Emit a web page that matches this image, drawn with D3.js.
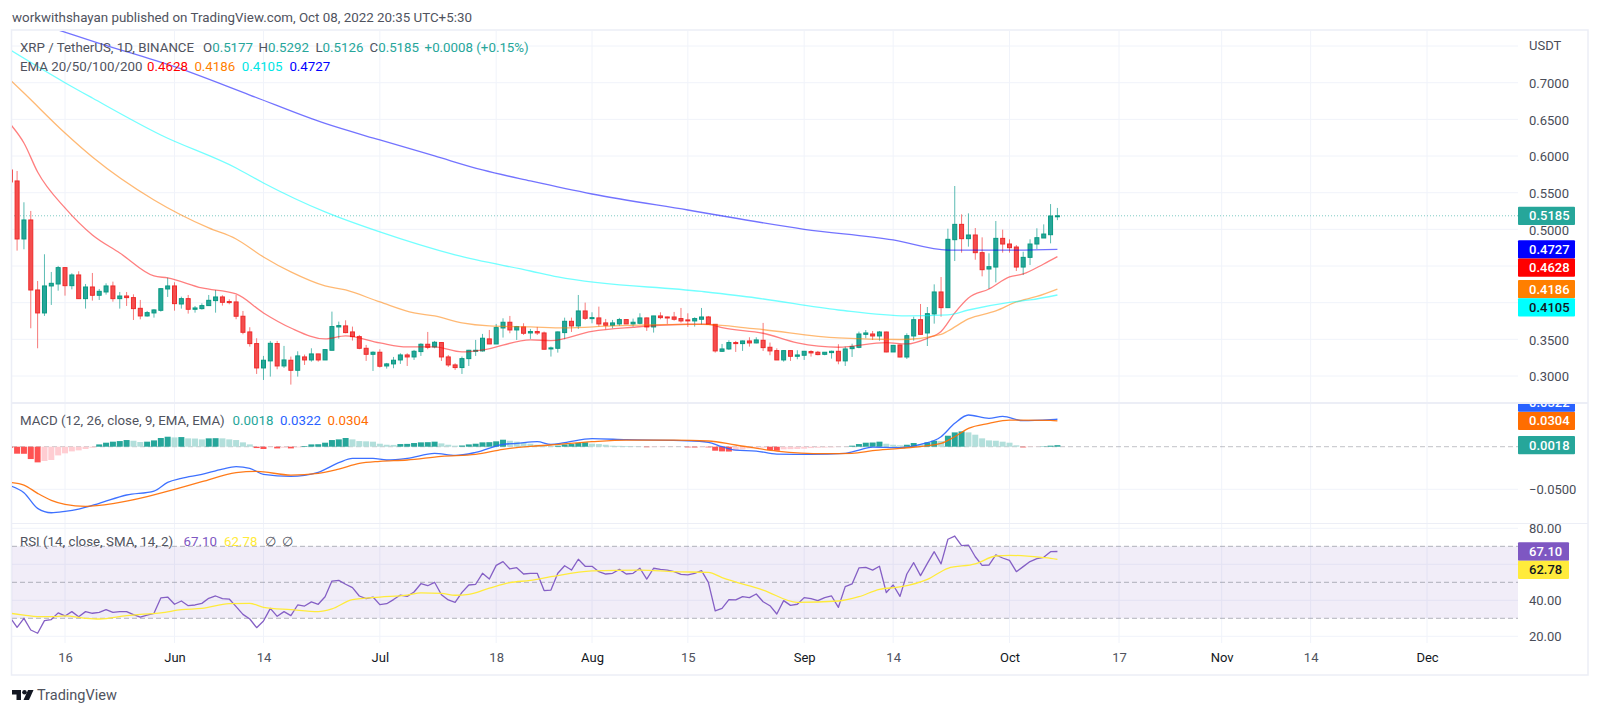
<!DOCTYPE html>
<html>
<head>
<meta charset="utf-8">
<title>XRP / TetherUS</title>
<script src="https://cdn.jsdelivr.net/npm/d3@7"></script>
<style>
  html, body { margin: 0; padding: 0; background: #fff; }
  svg { display: block; font-family: Roboto, sans-serif; }
</style>
</head>
<body>
<svg id="chart" width="1600" height="714"></svg>
<script>
// daily candles, first one is 8 May 2022 (cut off by the left edge)
const opens = [.5810,.5660,.4869,.5128,.4173,.3860,.4228,.4255,.4478,.4232,.4378,.4055,.4214,.4101,.4146,.4228,.4055,.4091,.4069,.3923,.3819,.3860,.3896,.4187,.4228,.3982,.4055,.3910,.3919,.3960,.4028,.4078,
  .4015,.4010,.3815,.3601,.3442,.3110,.3206,.3442,.3137,.3215,.3078,.3260,.3219,.3301,.3219,.3351,.3669,.3683,.3601,.3537,.3378,.3296,.3324,.3137,.3165,.3219,.3287,.3260,.3333,.3433,.3396,
  .3456,.3260,.3151,.3115,.3237,.3337,.3342,.3506,.3437,.3655,.3733,.3628,.3669,.3587,.3606,.3587,.3369,.3378,.3592,.3746,.3683,.3887,.3783,.3792,.3724,.3692,.3710,.3769,.3710,.3719,.3792,
  .3669,.3819,.3805,.3805,.3783,.3765,.3751,.3774,.3805,.3705,.3337,.3369,.3456,.3442,.3478,.3451,.3487,.3392,.3346,.3219,.3346,.3269,.3283,.3333,.3324,.3296,.3319,.3337,.3206,
  .3373,.3391,.3568,.3573,.3546,.3600,.3328,.3423,.3259,.3546,.3768,.3587,.3846,.4146,.3932,.4859,.5068,.4873,.4923,.4682,.4459,.4486,.4877,.4800,.4759,.4486,.4618,.4800,.4882,.4927,.5177];
const highs = [.5850,.5796,.5369,.5251,.4296,.4660,.4419,.4501,.4482,.4401,.4428,.4255,.4405,.4187,.4264,.4287,.4146,.4146,.4114,.4037,.3887,.3910,.4196,.4341,.4278,.4082,.4105,.3955,.3991,.4105,.4173,.4101,
  .4046,.4105,.3887,.3665,.3515,.3274,.3478,.3478,.3410,.3265,.3337,.3292,.3378,.3301,.3365,.3878,.3742,.3760,.3674,.3560,.3424,.3337,.3365,.3178,.3260,.3310,.3310,.3356,.3446,.3601,.3478,
  .3460,.3287,.3174,.3265,.3356,.3492,.3574,.3628,.3710,.3787,.3819,.3683,.3719,.3642,.3669,.3606,.3401,.3606,.3796,.3796,.4105,.4001,.3869,.3946,.3778,.3765,.3792,.3774,.3783,.3855,.3796,
  .3819,.3869,.3810,.3874,.3928,.3855,.3801,.3928,.3819,.3705,.3437,.3487,.3478,.3483,.3528,.3528,.3724,.3456,.3378,.3351,.3351,.3351,.3342,.3351,.3342,.3324,.3346,.3433,.3401,
  .3440,.3605,.3627,.3614,.3614,.3605,.3423,.3428,.3582,.3809,.3982,.3941,.4250,.4350,.5009,.5591,.5205,.5218,.5018,.4891,.4673,.5114,.4996,.4864,.4786,.4695,.4864,.5014,.5068,.5345,.5292];
const lows = [.5620,.4710,.4728,.3651,.3378,.3819,.3969,.4164,.4096,.4182,.4050,.3919,.4028,.4037,.4110,.4014,.3919,.3955,.3764,.3773,.3810,.3796,.3878,.4078,.3891,.3919,.3851,.3864,.3905,.3955,.3864,.3960,
  .3978,.3774,.3569,.3401,.3028,.2946,.2992,.3092,.3110,.2883,.2992,.3151,.3196,.3196,.3219,.3351,.3510,.3583,.3483,.3365,.3206,.3069,.3115,.3101,.3106,.3165,.3137,.3219,.3274,.3365,.3378,
  .3206,.3124,.3083,.3028,.3137,.3274,.3333,.3437,.3437,.3524,.3583,.3492,.3560,.3506,.3560,.3365,.3265,.3319,.3501,.3601,.3642,.3765,.3719,.3674,.3637,.3651,.3683,.3710,.3674,.3705,.3615,
  .3592,.3774,.3710,.3755,.3728,.3669,.3674,.3701,.3701,.3319,.3328,.3356,.3328,.3342,.3401,.3446,.3342,.3283,.3219,.3196,.3206,.3228,.3219,.3265,.3283,.3283,.3237,.3160,.3137,
  .3260,.3378,.3514,.3491,.3482,.3323,.3328,.3255,.3232,.3482,.3568,.3409,.3714,.3809,.3932,.4568,.4682,.4764,.4586,.4359,.4187,.4277,.4682,.4682,.4432,.4377,.4514,.4732,.4882,.4809,.5126];
const closes = [.5646,.4869,.5128,.4173,.3860,.4228,.4264,.4478,.4232,.4378,.4055,.4214,.4101,.4155,.4228,.4055,.4091,.4069,.3919,.3819,.3864,.3901,.4191,.4228,.3987,.4055,.3910,.3928,.3960,.4032,.4078,.4005,
  .4001,.3815,.3596,.3442,.3110,.3215,.3446,.3137,.3219,.3078,.3274,.3219,.3301,.3219,.3360,.3674,.3687,.3592,.3537,.3378,.3296,.3324,.3133,.3165,.3215,.3287,.3260,.3337,.3433,.3392,.3460,
  .3260,.3151,.3115,.3237,.3351,.3351,.3515,.3437,.3660,.3733,.3628,.3674,.3583,.3606,.3587,.3365,.3383,.3601,.3746,.3683,.3887,.3787,.3796,.3710,.3692,.3724,.3769,.3710,.3733,.3792,.3669,
  .3819,.3796,.3796,.3774,.3751,.3755,.3783,.3805,.3705,.3342,.3369,.3456,.3442,.3478,.3451,.3492,.3387,.3342,.3219,.3346,.3269,.3287,.3337,.3315,.3292,.3324,.3337,.3206,.3369,
  .3400,.3573,.3587,.3546,.3600,.3328,.3418,.3259,.3550,.3768,.3568,.3850,.4146,.3932,.4864,.5068,.4873,.4923,.4682,.4450,.4491,.4877,.4800,.4750,.4486,.4618,.4800,.4886,.4936,.5182,.5185];

// EMA lines, read at these candle numbers (0 = 9 May)
const ema20Days = [-1,1,3,7,11,15,20,22,27,32,36,40,45,48,53,57,61,65,68,75,78,84,90,98,101,103,109,114,120,127,130,133,135,137,139,142,145,147,150,152];
const ema20 = [.6437,.6178,.5782,.5292,.4923,.4678,.4364,.4337,.4201,.4119,.3860,.3655,.3505,.3546,.3451,.3396,.3396,.3328,.3355,.3492,.3483,.3610,.3665,.3706,.3706,.3659,.3583,.3451,.3392,.3455,.3437,.3515,.3608,.3861,.4064,.4187,.4351,.4392,.4528,.4628];
const ema50Days = [-1,1,7,11,20,28,32,36,40,45,48,53,58,61,65,69,75,80,87,100,108,120,129,135,136,139,143,146,149,152];
const ema50 = [.7037,.6859,.6314,.5987,.5401,.5019,.4869,.4623,.4419,.4228,.4173,.4010,.3860,.3819,.3724,.3683,.3669,.3655,.3683,.3703,.3642,.3519,.3498,.3569,.3614,.3778,.3887,.4010,.4085,.4186];
const ema100Days = [-1,7,11,21,32,36,45,53,64,75,79,100,108,120,130,136,139,145,148,152];
const ema100 = [.7446,.7000,.6791,.6287,.5837,.5632,.5237,.4964,.4651,.4432,.4351,.4153,.4064,.3900,.3819,.3833,.3900,.4003,.4037,.4105];
const ema200Days = [-1,6,12,23,34,45,53,61,68,75,84,98,115,128,136,145,152];
const ema200 = [.7930,.7719,.7537,.7218,.6832,.6444,.6219,.6001,.5810,.5660,.5482,.5264,.5001,.4855,.4718,.4716,.4727];

// MACD pane
const macdHist = [-.0012,-.0082,-.0083,-.0145,-.0184,-.0168,-.0156,-.0102,-.0078,-.0055,-.0043,-.0027,-.0012,.0027,.0047,.0059,.0066,.0078,.0070,.0055,.0059,.0074,.0102,.0117,.0109,.0113,.0098,.0096,.0086,.0098,.0100,.0098,
  .0086,.0078,.0051,.0027,-.0016,-.0027,-.0004,-.0020,-.0012,-.0020,-.0008,.0008,.0027,.0029,.0047,.0078,.0086,.0102,.0086,.0066,.0063,.0059,.0035,.0023,.0021,.0031,.0033,.0043,.0051,.0053,.0059,
  .0039,.0023,.0012,.0014,.0027,.0035,.0051,.0053,.0063,.0082,.0070,.0059,.0047,.0035,.0023,.0012,.0008,.0012,.0027,.0031,.0043,.0051,.0035,.0031,.0023,.0012,.0010,.0008,.0004,.0002,-.0006,
  -.0005,-.0004,-.0003,-.0002,-.0001,-.0008,-.0009,-.0006,-.0008,-.0047,-.0055,-.0057,-.0047,-.0031,-.0020,-.0016,-.0012,-.0039,-.0047,-.0031,-.0029,-.0027,-.0023,-.0016,-.0012,-.0010,-.0008,-.0004,-.0002,
  .0012,.0031,.0047,.0049,.0059,.0035,.0023,.0016,.0023,.0043,.0031,.0051,.0070,.0066,.0129,.0168,.0180,.0168,.0141,.0098,.0074,.0070,.0059,.0047,.0016,-.0008,-.0004,-.0002,.0004,.0012,.0018];
const macdDays = [-1,1,3,5,7,9,12,16,20,22,24,27,30,32,34,36,40,44,47,49,52,54,57,61,64,67,71,73,76,78,80,84,89,98,101,103,105,108,111,116,121,123,125,129,132,135,137,139,142,144,147,151,152];
const macdLine = [-.0458,-.0540,-.0724,-.0775,-.0759,-.0732,-.0665,-.0567,-.0520,-.0419,-.0372,-.0325,-.0262,-.0235,-.0254,-.0325,-.0348,-.0301,-.0188,-.0137,-.0137,-.0156,-.0137,-.0078,-.0102,-.0067,.0027,.0039,.0059,.0027,.0047,.0094,.0082,.0070,.0051,0,-.0039,-.0051,-.0086,-.0090,-.0078,-.0039,-.0004,-.0012,.0027,.0117,.0274,.0372,.0333,.0356,.0305,.0317,.0322];
const signalDays = [-1,1,3,5,7,10,14,19,23,27,32,35,40,44,47,50,53,57,62,67,71,75,78,84,89,96,101,105,111,118,122,125,129,135,137,139,142,145,151,152];
const signalLine = [-.0419,-.0450,-.0548,-.0630,-.0677,-.0700,-.0669,-.0587,-.0501,-.0411,-.0305,-.0290,-.0333,-.0313,-.0262,-.0196,-.0172,-.0156,-.0113,-.0090,-.0031,.0005,.0020,.0059,.0078,.0078,.0067,.0020,-.0051,-.0082,-.0078,-.0047,-.0020,.0039,.0117,.0215,.0274,.0313,.0309,.0304];

// RSI pane
const rsi = [30.4,25.0,30.0,23.5,21.7,28.7,29.3,33.0,31.3,33.7,30.9,33.7,32.8,33.3,34.8,33.3,33.7,33.7,32.0,30.7,31.8,32.8,41.3,41.8,37.8,39.6,37.0,37.4,38.3,41.1,42.4,40.9,
  40.7,36.5,32.2,29.6,24.8,28.5,35.5,31.1,33.7,31.5,37.4,36.8,39.1,37.8,42.0,50.7,51.1,48.9,47.0,42.4,40.9,41.8,37.6,38.1,40.4,42.9,42.2,44.6,49.2,48.1,50.0,
  43.1,40.2,38.9,44.4,48.5,48.9,55.0,51.8,59.4,61.5,57.4,58.1,54.6,55.0,55.0,45.4,45.7,55.0,59.2,56.8,62.8,58.9,58.9,55.9,54.6,55.0,57.2,54.6,55.0,57.8,51.8,
  57.8,57.2,56.8,55.9,54.4,54.1,55.0,56.5,50.0,34.1,35.5,40.4,40.2,42.0,41.5,43.5,39.2,37.0,32.4,39.8,37.2,37.8,41.5,40.9,39.8,41.5,42.4,36.1,47.6,
  49.1,58.0,58.3,56.8,58.9,44.3,48.5,42.2,54.6,60.9,53.7,60.5,67.0,60.2,73.9,75.7,70.4,70.7,64.2,59.4,59.6,65.2,63.5,62.2,55.9,58.7,61.5,63.1,63.9,67.0,67.1];
const rsiMaDays = [-1,1,3,5,7,10,12,16,18,21,24,27,31,34,36,40,44,46,49,53,57,59,62,64,66,69,72,75,78,84,91,96,101,103,109,114,120,123,126,129,133,136,140,143,145,150,151,152];
const rsiMa = [32.8,31.8,30.9,30.9,31.3,30.0,29.6,31.5,32.2,33.0,34.8,35.5,38.1,38.3,36.1,34.8,33.7,35.2,40.4,41.8,42.9,44.1,43.9,42.8,43.3,46.7,49.8,51.1,53.1,56.3,56.8,55.9,55.5,52.6,45.7,38.9,39.6,42.0,46.1,47.4,51.6,57.8,60.2,64.6,65.0,63.7,63.3,62.78];

// axis ticks (0.45, 0.40 and 60 sit under the value boxes, so no label for them)
const priceTicks = [.7,.65,.6,.55,.5,.35,.3];
const priceGrid = [.75,.7,.65,.6,.55,.5,.45,.4,.35,.3];
const macdTicks = [-.05];
const rsiTicks = [80,40,20];
const rsiGrid = [80,60,40,20];
const rsiBands = [70,50,30];
const timeTicks = ['2022-05-16','2022-06-01','2022-06-14','2022-07-01','2022-07-18','2022-08-01','2022-08-15','2022-09-01','2022-09-14','2022-10-01','2022-10-17','2022-11-01','2022-11-14','2022-12-01'];
const timeLabels = ['16','Jun','14','Jul','18','Aug','15','Sep','14','Oct','17','Nov','14','Dec'];

const UP = '#26a69a', UP_DARK = '#089981', DOWN = '#f44e4e', DOWN_DARK = '#ee2a2a';
const TEXT = '#50535e', GRID = '#f0f3fa', FRAME = '#eceef6';
const LEFT = 12, RIGHT = 1518, EDGE = 1588, AXIS_X = 1529;
const BOX_H = 18.3;

const svg = d3.select('#chart');
const parseDay = d3.utcParse('%Y-%m-%d');

const x = d3.scaleUtc().domain([parseDay('2022-05-16'), parseDay('2022-12-01')]).range([65, 1427]);
const day0 = parseDay('2022-05-09');
const xAt = i => x(d3.utcDay.offset(day0, i));

const yPrice = d3.scaleLinear().domain([.7, .3]).range([82.7, 376]);
const yMacd = d3.scaleLinear().domain([0, -.05]).range([446.7, 489.3]);
const yRsi = d3.scaleLinear().domain([80, 20]).range([528.3, 636.3]);

const defs = svg.append('defs');
function addClip(id, y0, y1, x0, x1) {
    defs.append('clipPath').attr('id', id).append('rect')
        .attr('x', x0).attr('y', y0).attr('width', x1 - x0).attr('height', y1 - y0);
}
addClip('clip-price', 31, 402, LEFT, RIGHT);
addClip('clip-macd', 404, 522, LEFT, RIGHT);
addClip('clip-rsi', 524, 643, LEFT, RIGHT);
addClip('clip-macd-axis', 404, 522, RIGHT, EDGE);

// grid
const gridLayer = svg.append('g');
gridLayer.selectAll('.vgrid').data(timeTicks).enter().append('line')
    .attr('x1', d => x(parseDay(d))).attr('x2', d => x(parseDay(d)))
    .attr('y1', 31).attr('y2', 643).attr('stroke', GRID);
function hGrid(values, scale) {
    gridLayer.selectAll(null).data(values).enter().append('line')
        .attr('x1', LEFT).attr('x2', RIGHT)
        .attr('y1', d => scale(d)).attr('y2', d => scale(d)).attr('stroke', GRID);
}
hGrid(priceGrid, yPrice);
hGrid(macdTicks, yMacd);
hGrid(rsiGrid, yRsi);

// frame and pane separators
const frame = svg.append('g').attr('fill', 'none').attr('stroke', FRAME);
frame.append('rect').attr('x', 11.5).attr('y', 30).attr('width', EDGE - 11.5).attr('height', 645).attr('stroke-width', 1.5);
frame.append('line').attr('x1', 12).attr('x2', EDGE).attr('y1', 403).attr('y2', 403).attr('stroke-width', 2);
frame.append('line').attr('x1', 12).attr('x2', EDGE).attr('y1', 523.5).attr('y2', 523.5);

// --- price pane ---
const pricePane = svg.append('g').attr('clip-path', 'url(#clip-price)');

pricePane.append('line')
    .attr('x1', LEFT + 2).attr('x2', RIGHT)
    .attr('y1', yPrice(closes[closes.length - 1])).attr('y2', yPrice(closes[closes.length - 1]))
    .attr('stroke', UP).attr('stroke-opacity', .6).attr('stroke-dasharray', '1 2');

const candles = pricePane.selectAll('.candle').data(opens).enter().append('g');
candles.append('line')
    .attr('x1', (d, k) => xAt(k - 1)).attr('x2', (d, k) => xAt(k - 1))
    .attr('y1', (d, k) => yPrice(highs[k])).attr('y2', (d, k) => yPrice(lows[k]))
    .attr('stroke', (d, k) => closes[k] >= d ? UP : DOWN)
    .attr('stroke-opacity', .75);
candles.append('rect')
    .attr('x', (d, k) => xAt(k - 1) - 2).attr('width', 4)
    .attr('y', (d, k) => yPrice(Math.max(d, closes[k])))
    .attr('height', (d, k) => Math.max(1, Math.abs(yPrice(d) - yPrice(closes[k]))))
    .attr('fill', (d, k) => closes[k] >= d ? UP : DOWN)
    .attr('stroke', (d, k) => closes[k] >= d ? UP_DARK : DOWN_DARK);

function drawLine(parent, days, values, scale, color, width, opacity, curve) {
    const line = d3.line().x((d, k) => xAt(days[k])).y(d => scale(d)).curve(curve || d3.curveLinear);
    parent.append('path').attr('d', line(values))
        .attr('fill', 'none').attr('stroke', color)
        .attr('stroke-width', width).attr('stroke-opacity', opacity)
        .attr('stroke-linejoin', 'round');
}
drawLine(pricePane, ema20Days, ema20, yPrice, '#ff0000', 1.3, .5, d3.curveMonotoneX);
drawLine(pricePane, ema50Days, ema50, yPrice, '#ff7f00', 1.3, .55, d3.curveMonotoneX);
drawLine(pricePane, ema100Days, ema100, yPrice, '#00ffff', 1.3, .55, d3.curveMonotoneX);
drawLine(pricePane, ema200Days, ema200, yPrice, '#0000ff', 1.3, .55, d3.curveMonotoneX);

// --- macd pane ---
const macdPane = svg.append('g').attr('clip-path', 'url(#clip-macd)');
macdPane.append('line').attr('x1', LEFT).attr('x2', RIGHT)
    .attr('y1', yMacd(0)).attr('y2', yMacd(0))
    .attr('stroke', '#787b86').attr('stroke-opacity', .45).attr('stroke-dasharray', '5 3');

function histColor(d, k) {
    const prev = k > 0 ? macdHist[k - 1] : d;
    if (d >= 0) return d >= prev ? UP : '#b2dfdb';
    return d <= prev ? '#ff5252' : '#ffcdd2';
}
macdPane.selectAll('.bar').data(macdHist).enter().append('rect')
    .attr('x', (d, k) => xAt(k - 1) - 3).attr('width', 6)
    .attr('y', d => Math.min(yMacd(d), yMacd(0)))
    .attr('height', d => Math.abs(yMacd(d) - yMacd(0)))
    .attr('fill', histColor);
drawLine(macdPane, macdDays, macdLine, yMacd, '#2962ff', 1.3, .9, d3.curveMonotoneX);
drawLine(macdPane, signalDays, signalLine, yMacd, '#ff6d00', 1.3, .9, d3.curveMonotoneX);

// --- rsi pane ---
const rsiPane = svg.append('g').attr('clip-path', 'url(#clip-rsi)');
rsiPane.append('rect').attr('x', LEFT).attr('width', RIGHT - LEFT)
    .attr('y', yRsi(70)).attr('height', yRsi(30) - yRsi(70))
    .attr('fill', '#7e57c2').attr('fill-opacity', .11);
rsiPane.selectAll('.band').data(rsiBands).enter().append('line')
    .attr('x1', LEFT).attr('x2', RIGHT)
    .attr('y1', d => yRsi(d)).attr('y2', d => yRsi(d))
    .attr('stroke', '#787b86').attr('stroke-opacity', .55).attr('stroke-dasharray', '5 3');
drawLine(rsiPane, rsi.map((d, k) => k - 1), rsi, yRsi, '#7e57c2', 1.3, .95);
drawLine(rsiPane, rsiMaDays, rsiMa, yRsi, '#ffeb3b', 1.3, 1, d3.curveMonotoneX);

// --- axes ---
function styleAxis(g) {
    g.select('.domain').remove();
    g.selectAll('.tick line').remove();
    g.selectAll('text').attr('fill', '#4a4d58').attr('font-size', 13).attr('font-family', 'Roboto, sans-serif');
}
svg.append('g').attr('transform', `translate(${AXIS_X},0.5)`)
    .call(d3.axisRight(yPrice).tickValues(priceTicks).tickFormat(d3.format('.4f')).tickSize(0).tickPadding(0))
    .call(styleAxis);
svg.append('g').attr('transform', `translate(${AXIS_X},0)`)
    .call(d3.axisRight(yMacd).tickValues(macdTicks).tickFormat(d3.format('.4f')).tickSize(0).tickPadding(0))
    .call(styleAxis);
svg.append('g').attr('transform', `translate(${AXIS_X},0)`)
    .call(d3.axisRight(yRsi).tickValues(rsiTicks).tickFormat(d3.format('.2f')).tickSize(0).tickPadding(0))
    .call(styleAxis);
svg.append('g').attr('transform', 'translate(0,653)')
    .call(d3.axisBottom(x).tickValues(timeTicks.map(parseDay))
        .tickFormat((d, k) => timeLabels[k]).tickSize(0).tickPadding(0))
    .call(styleAxis)
    .selectAll('text')
    .attr('fill', (d, k) => isNaN(+timeLabels[k]) ? '#131722' : TEXT);

svg.append('text').attr('x', AXIS_X).attr('y', 49.5).attr('fill', '#4a4d58').attr('font-size', 13).text('USDT');

// value boxes on the right, pushed apart when they would overlap
function valueBoxes(parent, items, scale, width, dir) {
    let prevY = null;
    items.forEach(item => {
        let cy = scale(item.value);
        if (prevY !== null && Math.abs(cy - prevY) < BOX_H) cy = prevY + dir * BOX_H;
        prevY = cy;
        parent.append('rect').attr('x', RIGHT).attr('y', cy - BOX_H / 2)
            .attr('width', width).attr('height', BOX_H).attr('rx', 1).attr('fill', item.color);
        parent.append('text').attr('x', AXIS_X).attr('y', cy + 4.6)
            .attr('font-size', 13).attr('font-weight', 500)
            .attr('fill', item.textColor || '#fff').text(item.label);
    });
}
valueBoxes(svg.append('g'), [
    { value: .5185, label: '0.5185', color: UP },
    { value: .4727, label: '0.4727', color: '#0000ff' },
    { value: .4628, label: '0.4628', color: '#ff0000' },
    { value: .4186, label: '0.4186', color: '#ff7f00' },
    { value: .4105, label: '0.4105', color: '#00ffff', textColor: '#131722' }
], yPrice, 57, 1);
valueBoxes(svg.append('g').attr('clip-path', 'url(#clip-macd-axis)'), [
    { value: .0304, label: '0.0304', color: '#ff6d00' },
    { value: .0322, label: '0.0322', color: '#2962ff' }
], yMacd, 57, -1);
valueBoxes(svg.append('g'), [
    { value: .0018, label: '0.0018', color: UP }
], yMacd, 57, 1);
valueBoxes(svg.append('g'), [
    { value: 67.1, label: '67.10', color: '#7e57c2' },
    { value: 62.78, label: '62.78', color: '#ffeb3b', textColor: '#131722' }
], yRsi, 51, 1);

// --- texts ---
function label(xPos, yPos, str, color, size) {
    return svg.append('text').attr('x', xPos).attr('y', yPos)
        .attr('fill', color || TEXT).attr('font-size', size || 13.3).text(str);
}
label(12, 21.5, 'workwithshayan published on TradingView.com, Oct 08, 2022 20:35 UTC+5:30', TEXT, 13.35);

label(20, 52, 'XRP / TetherUS, 1D, BINANCE');
[[203, 'O', '0.5177'], [258.6, 'H', '0.5292'], [315.4, 'L', '0.5126'], [369.5, 'C', '0.5185']].forEach(d => {
    const t = label(d[0], 52, d[1]);
    t.append('tspan').attr('fill', UP).text(d[2]);
});
label(424.6, 52, '+0.0008 (+0.15%)', UP);

label(20, 70.5, 'EMA 20/50/100/200');
label(147, 70.5, '0.4628', '#ff0000');
label(194.4, 70.5, '0.4186', '#ff7f00');
label(241.7, 70.5, '0.4105', '#00e5e5');
label(289.4, 70.5, '0.4727', '#0000ff');

label(20, 425, 'MACD (12, 26, close, 9, EMA, EMA)');
label(232.6, 425, '0.0018', UP);
label(280, 425, '0.0322', '#2962ff');
label(327.6, 425, '0.0304', '#ff6d00');

label(20, 546, 'RSI (14, close, SMA, 14, 2)');
label(183.6, 546, '67.10', '#7e57c2');
label(224, 546, '62.78', '#ffeb3b');
label(264.7, 546, '\u2205', TEXT);
label(281.6, 546, '\u2205', TEXT);

// logo
const logo = svg.append('g').attr('fill', '#131722');
logo.append('path').attr('d', 'M12 690h9v10h-4.5v-5.5H12z');
logo.append('circle').attr('cx', 24.5).attr('cy', 692.3).attr('r', 2.3);
logo.append('path').attr('d', 'M28 690h5.5l-4.5 10h-5.5z');
label(37, 700, 'TradingView', TEXT, 14.5);
</script>
</body>
</html>
